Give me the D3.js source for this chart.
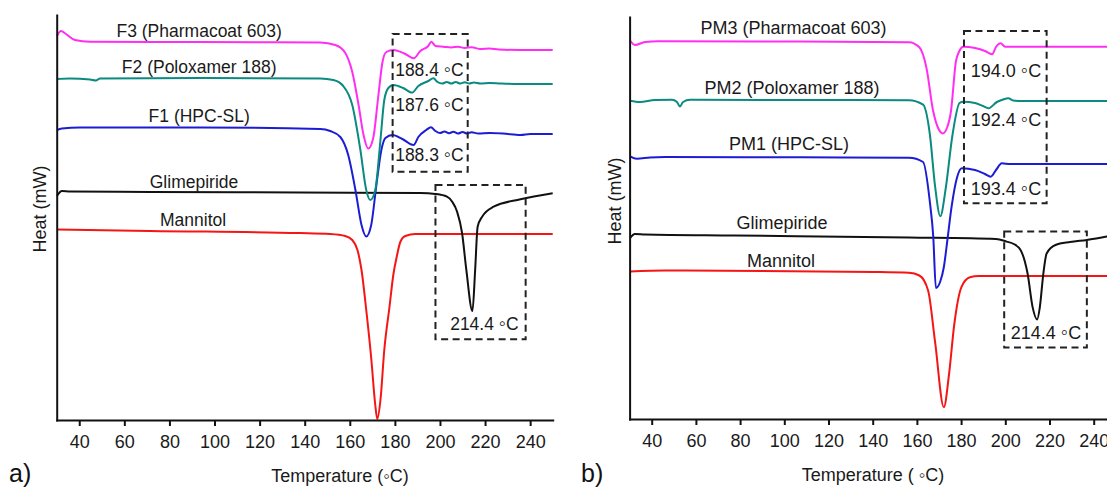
<!DOCTYPE html>
<html>
<head>
<meta charset="utf-8">
<script src="https://cdn.jsdelivr.net/npm/d3@7"></script>
<style>
  body { margin: 0; background: #fff; }
  svg { display: block; font-family: "Liberation Sans", Arial, sans-serif; }
</style>
</head>
<body>
<svg id="chart" width="1107" height="488"></svg>
<script>
// temperature axis (°C) and tick labels
const tempDomain = [30, 250]
const tempTicks = [40, 60, 80, 100, 120, 140, 160, 180, 200, 220, 240]

// heat flow, arbitrary units (no scale shown), [T, heat]
// panel a)
const f3 = [[30.1, 384], [31.9, 389], [34.1, 386], [38.1, 380], [44.8, 378.3], [93.6, 378], [146.9, 377.5],
  [153.6, 375], [158.0, 367], [161.1, 348], [163.9, 315], [166.1, 285], [168.2, 271.4], [170.4, 282],
  [172.7, 325], [174.5, 358], [176.2, 368], [179.3, 370], [184.6, 366], [188.4, 361.7], [191.3, 369],
  [194.8, 374], [196.2, 378.3], [198.0, 374], [201.5, 373.3], [205, 372.5], [208, 373.3], [211, 372],
  [214, 372.8], [217.9, 371], [222, 371.5], [226, 370.5], [235.7, 370], [250, 370]]
const f2 = [[30.1, 341], [35.9, 341.5], [44.8, 340.5], [47.4, 339.5], [49.2, 341.5], [93.6, 342], [146.9, 341.5],
  [152.7, 340], [157.1, 334], [161.1, 315], [164.7, 270], [167.3, 230], [169.1, 220], [171.3, 230],
  [173.6, 280], [175.3, 320], [177.1, 332], [179.3, 335], [183.7, 332], [187.6, 327.3], [190.4, 334],
  [194.8, 339], [197.1, 341.7], [198.9, 338], [201, 336.5], [203, 338], [205, 336.5], [207, 338],
  [209, 336.5], [211, 337.8], [213, 336.5], [215, 337.5], [218, 336.5], [222, 337], [226.8, 336.5],
  [235, 336], [250, 336]]
const f1 = [[30.1, 290], [32.3, 291.5], [40.3, 292.5], [93.6, 292.5], [146.9, 291], [151.3, 289], [155.8, 283],
  [159.3, 265], [162.5, 230], [165.2, 195], [167.3, 183.5], [169.5, 195], [171.8, 235], [174.0, 270],
  [175.8, 282], [178.9, 285], [183.3, 281], [188.3, 275], [190.4, 283], [193.9, 290], [196.0, 292.7],
  [198.0, 289], [200, 287], [202, 288.5], [204, 286.8], [206, 288.2], [208, 286.5], [210, 288],
  [212, 286.5], [214, 287.8], [217, 286.5], [222, 287], [228, 286.5], [235.7, 285], [240.1, 286], [250, 286]]
const glimA = [[30.1, 224], [32.3, 229], [35.9, 228.5], [71.4, 228], [138.0, 227.5], [191.3, 227], [198.0, 226],
  [203.1, 223.3], [205.5, 218], [207.6, 208.3], [209.8, 187], [211.7, 150], [214.4, 109], [215.6, 150],
  [216.7, 193.3], [218.7, 203.3], [223.8, 213.3], [235.7, 220.7], [250, 226.7]]
const mannA = [[30.1, 190.5], [71.4, 189], [138.0, 187], [151.3, 186], [158.0, 184], [161.1, 180], [163.4, 170],
  [165.2, 150], [167.3, 110], [169.5, 62], [171.3, 15], [172.2, 1], [173.6, 20], [175.3, 70], [177.6, 113],
  [179.3, 145], [180.8, 163], [182.4, 178], [184.6, 184], [189.1, 186], [250, 186]]

// panel b)
const pm3 = [[30.2, 378.5], [32.4, 374], [37.0, 377], [42.9, 377.8], [107.1, 377.5], [156.4, 376.8], [161.1, 371.7],
  [164.3, 351.4], [167.4, 307.5], [169.6, 291], [171.7, 285.6], [173.6, 291], [175.4, 307.5], [177.7, 358.2],
  [179.0, 367], [181.0, 372.3], [186.3, 371], [190.8, 368], [194.0, 364.7], [195.8, 372], [197.9, 375.7],
  [199.9, 372.3], [220.2, 372.3], [250, 372.3]]
const pm2 = [[30.2, 318.3], [34.7, 317], [41.5, 319], [49.2, 319.2], [51.4, 317], [52.8, 312.6], [54.2, 317],
  [57.3, 319.3], [107.1, 319], [156.4, 318.7], [162.8, 314.3], [165.9, 284], [168.2, 233.2], [170.6, 202.8],
  [173.0, 230], [176.1, 284], [179.3, 316], [181.0, 317.3], [186.3, 316], [189.9, 313], [192.4, 310.7],
  [196.2, 317], [199.0, 319.5], [201.4, 320.7], [203.5, 318.5], [206.7, 318], [250, 318]]
const pm1 = [[30.2, 262.6], [33.3, 260.2], [39.2, 261.5], [46.0, 262], [107.1, 261.7], [156.4, 261.2], [162.8, 257],
  [165.9, 216.3], [167.4, 182.5], [168.6, 131], [170.5, 137], [172.2, 152], [173.8, 179], [175.7, 212.3],
  [178.1, 241], [180.3, 250.7], [186.3, 249], [190.8, 245], [193.4, 242.3], [195.8, 249], [198.4, 255.7],
  [202.1, 255], [250, 255]]
const glimB = [[30.2, 180.8], [32.4, 184.9], [37.0, 184.5], [77.7, 183.5], [156.4, 181.5], [195.8, 180.1],
  [200.6, 177.4], [203.8, 175], [206.9, 169], [210.1, 145.2], [212.4, 111.4], [214.4, 99.6], [215.6, 111.4],
  [217.2, 145.2], [218.7, 165.5], [222.7, 174], [229.3, 177], [236.9, 179.1], [246.0, 182.5], [250, 184]]
const mannB = [[30.2, 147.6], [46.0, 148.6], [140.6, 147], [156.4, 146.2], [161.1, 143.5], [165.1, 128.3],
  [168.2, 77.6], [172.2, 11.8], [174.5, 44], [176.9, 94.5], [180.1, 131.7], [184.0, 141.8], [188.0, 142.9],
  [250, 142.9]]

const namesA = ["F3 (Pharmacoat 603)", "F2 (Poloxamer 188)", "F1 (HPC-SL)", "Glimepiride", "Mannitol"]
const namesB = ["PM3 (Pharmacoat 603)", "PM2 (Poloxamer 188)", "PM1 (HPC-SL)", "Glimepiride", "Mannitol"]
const peaksA = ["188.4", "187.6", "188.3", "214.4"]
const peaksB = ["194.0", "192.4", "193.4", "214.4"]

const colors = ["#ff2ef2", "#0b8a80", "#1c1cd4", "#111111", "#f51515"]

const svg = d3.select("#chart")

function drawPanel(p) {
  const x = d3.scaleLinear().domain(tempDomain).range(p.xRange)
  const y = d3.scaleLinear().domain([0, p.yMax]).range(p.yRange)
  const g = svg.append("g")

  const line = d3.line()
    .x(d => x(d[0]))
    .y(d => y(d[1]))
    .curve(d3.curveMonotoneX)

  // draw bottom series first
  p.series.slice().reverse().forEach((s, i) => {
    g.append("path")
      .datum(s)
      .attr("d", line)
      .attr("fill", "none")
      .attr("stroke", colors[colors.length - 1 - i])
      .attr("stroke-width", 2)
      .attr("stroke-linejoin", "round")
  })

  // axes
  g.append("g")
    .attr("transform", `translate(0,${p.yRange[0]})`)
    .call(d3.axisBottom(x).tickValues(tempTicks).tickSize(6).tickSizeOuter(0).tickPadding(9))
    .attr("font-family", null)
    .attr("font-size", p.tickFont)
    .call(a => {
      a.select(".domain").attr("stroke", "#111").attr("stroke-width", 2).attr("stroke-linecap", "square")
      a.selectAll(".tick line").attr("stroke", "#111").attr("stroke-width", 2)
      a.selectAll(".tick text").attr("fill", "#1a1a1a")
    })

  g.append("g")
    .attr("transform", `translate(${p.xRange[0]},0)`)
    .call(d3.axisLeft(y).tickValues([]).tickSize(0).tickSizeOuter(0))
    .call(a => a.select(".domain").attr("stroke", "#111").attr("stroke-width", 2).attr("stroke-linecap", "square"))

  // curve names
  g.selectAll(".name")
    .data(p.names)
    .enter()
    .append("text")
    .attr("class", "name")
    .attr("x", (d, i) => x(p.nameAt[i][0]))
    .attr("y", (d, i) => y(p.nameAt[i][1]))
    .attr("text-anchor", "middle")
    .attr("font-size", p.nameFont)
    .attr("fill", "#1a1a1a")
    .text(d => d)

  // dashed boxes
  g.selectAll(".box")
    .data(p.boxes)
    .enter()
    .append("rect")
    .attr("x", d => x(d[0]))
    .attr("y", d => y(d[3]))
    .attr("width", d => x(d[1]) - x(d[0]))
    .attr("height", d => y(d[2]) - y(d[3]))
    .attr("fill", "none")
    .attr("stroke", "#222")
    .attr("stroke-width", 2)
    .attr("stroke-dasharray", "7,4.5")

  // peak temperatures
  const pk = g.selectAll(".peak")
    .data(p.peaks)
    .enter()
    .append("text")
    .attr("x", (d, i) => x(p.peakAt[i][0]))
    .attr("y", (d, i) => y(p.peakAt[i][1]))
    .attr("text-anchor", "middle")
    .attr("font-size", p.peakFont)
    .attr("fill", "#1a1a1a")
  pk.append("tspan").text(d => d + " ")
  pk.append("tspan").attr("font-size", p.peakFont * 1.15).text("\u25E6")
  pk.append("tspan").text("C")

  // titles
  g.append("text")
    .attr("x", p.xTitle[0]).attr("y", p.xTitle[1])
    .attr("text-anchor", "middle")
    .attr("font-size", 18)
    .attr("fill", "#1a1a1a")
    .text(p.xLabel)

  g.append("text")
    .attr("transform", `translate(${p.yTitle[0]},${p.yTitle[1]}) rotate(-90)`)
    .attr("text-anchor", "middle")
    .attr("font-size", 18)
    .attr("fill", "#1a1a1a")
    .text("Heat (mW)")

  g.append("text")
    .attr("x", p.tag[0]).attr("y", p.tag[1])
    .attr("font-size", 25)
    .attr("fill", "#111")
    .text(p.tagText)
}

drawPanel({
  xRange: [56.7, 552.7], yRange: [420, 15], yMax: 405,
  series: [f3, f2, f1, glimA, mannA],
  names: namesA,
  nameAt: [[93.2, 383.5], [93.2, 347.4], [93.2, 298.4], [90.9, 232.5], [90.5, 194.3]],
  boxes: [[179.0, 212.3, 248.3, 386], [198.0, 238.0, 80.7, 235]],
  peaks: peaksA,
  peakAt: [[195.3, 344], [195.3, 309], [195.3, 259], [219.7, 90.5]],
  tickFont: 18, nameFont: 17.5, peakFont: 17.5,
  xLabel: "Temperature (\u25E6C)", xTitle: [340, 482],
  yTitle: [46, 209],
  tag: [9, 482], tagText: "a)"
})

drawPanel({
  xRange: [629.6, 1115.8], yRange: [419, 17], yMax: 402,
  series: [pm3, pm2, pm1, glimB, mannB],
  names: namesB,
  nameAt: [[104.2, 385], [103.5, 325.5], [102.1, 269], [99.0, 190.4], [98.5, 151.7]],
  boxes: [[181.3, 218.7, 215.7, 388], [199.5, 236.9, 71.6, 187.6]],
  peaks: peaksB,
  peakAt: [[200.3, 342], [200.3, 292.7], [200.3, 224.4], [218.4, 79.7]],
  tickFont: 18, nameFont: 18, peakFont: 18,
  xLabel: "Temperature ( \u25E6C)", xTitle: [873, 481],
  yTitle: [620.5, 201],
  tag: [581, 482], tagText: "b)"
})
</script>
</body>
</html>
